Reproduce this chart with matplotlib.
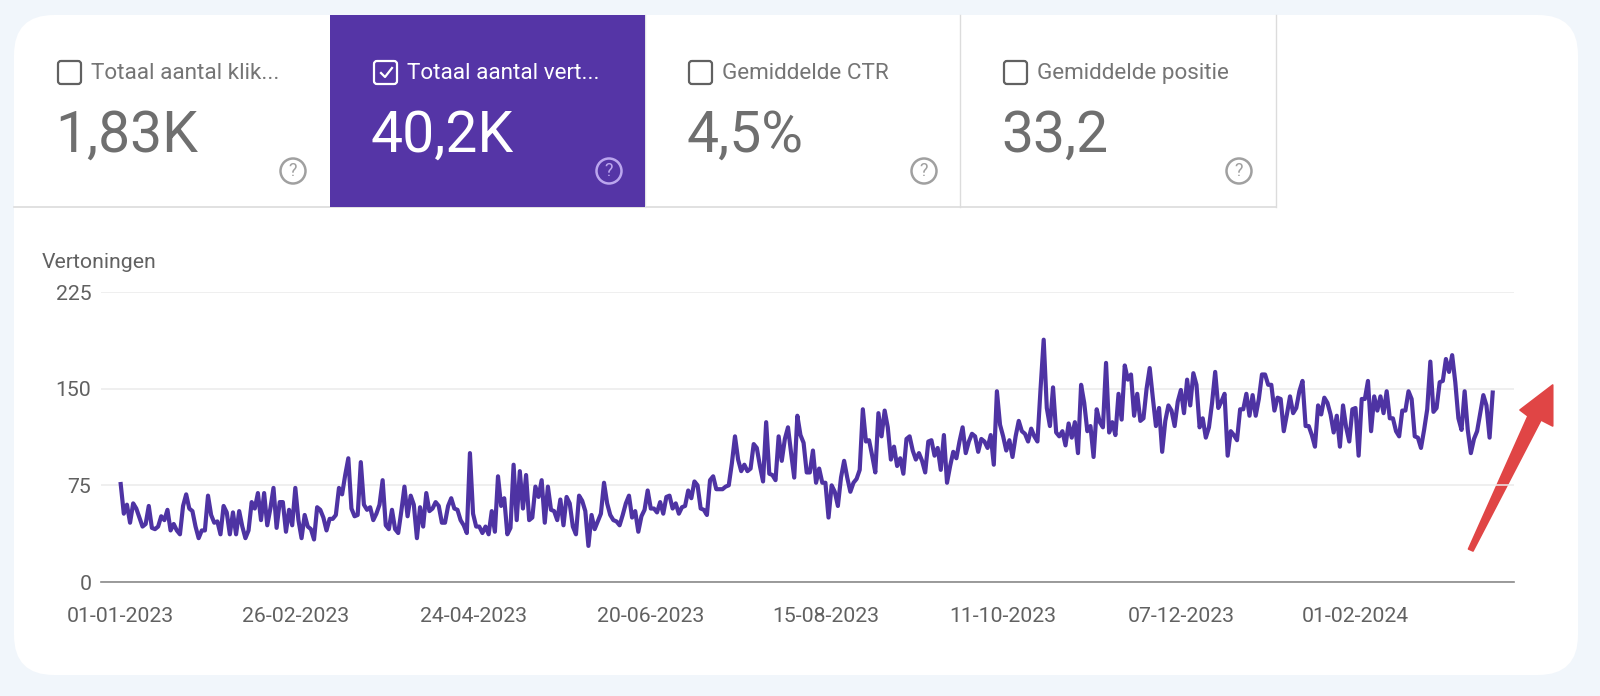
import numpy as np
import pandas as pd
import matplotlib
matplotlib.use("Agg")
from matplotlib import pyplot as plt
from matplotlib.patches import FancyBboxPatch, Rectangle, Polygon, Circle

plt.rcParams['font.family'] = ['Roboto', 'DejaVu Sans']

# daily impressions
part1 = [76, 53, 60, 46, 61, 57, 50, 43, 45, 59, 42, 41, 43, 51, 48, 56, 40, 45, 40, 37,
         59, 68, 57, 55, 43, 34, 40, 40, 67, 52, 46, 47, 37, 59, 54, 37, 54, 37, 55, 43,
         34, 40, 62, 57, 69, 48, 69, 44, 57, 73, 42, 62, 62, 39, 56, 44, 73, 48, 34, 52,
         43, 41, 33, 58, 56, 50, 40, 49, 49, 52, 73, 68, 83, 96, 57, 51, 52, 93, 60, 56,
         58, 48, 53, 60, 79, 44, 41, 56, 41, 38, 55, 74, 51, 67, 60, 34, 58, 43, 69, 55,
         57, 62, 59, 46]
part2 = [46, 59, 65, 57, 56, 48, 44, 38, 100, 53, 43, 43, 38, 43, 37, 55, 39, 82, 59, 65,
         37, 42, 91, 48, 86, 57, 83, 48, 50, 74, 66, 79, 46, 74, 56, 55, 48, 64, 44, 66,
         61, 43, 37, 67, 63, 55, 28, 52, 41, 47, 53, 77, 61, 52, 48, 47, 44, 52, 61, 67,
         50, 55, 39, 51, 56, 71, 57, 57, 54, 62, 53, 66, 67, 57, 61, 53, 58, 59, 71, 65,
         78, 75, 57, 56, 52, 79, 82, 72, 72, 72, 74, 75, 92, 113, 95, 86, 91, 86, 88, 107,
         104, 90, 78, 124, 84, 83, 79, 113, 94, 111, 120]
part3 = [100, 81, 129, 114, 108, 85, 85, 102, 77, 88, 77, 77, 50, 75, 70, 59, 81, 94, 81, 70,
         77, 80, 87, 134, 109, 110, 98, 85, 131, 113, 133, 120, 95, 105, 90, 96, 84, 111, 113, 102,
         95, 100, 94, 85, 109, 110, 98, 104, 87, 114, 77, 90, 101, 96, 109, 120, 100, 109, 115, 113,
         101, 111, 109, 104, 114, 91, 148, 122, 113, 102, 110, 97, 113, 125, 117, 115, 109, 119, 113, 109,
         150, 188, 135, 121, 151, 116, 113, 117, 106, 123, 112, 124, 100, 153, 139, 117, 121, 97, 134, 124,
         120, 170, 116, 124, 114, 146, 126, 168, 157]
part4 = [161, 129, 146, 125, 127, 150, 166, 143, 121, 135, 101, 125, 137, 133, 121, 140, 149, 131, 157, 137,
         162, 153, 120, 127, 112, 120, 139, 163, 135, 140, 146, 98, 117, 114, 110, 134, 134, 146, 129, 145,
         129, 142, 161, 161, 153, 153, 133, 143, 142, 117, 130, 144, 131, 135, 148, 156, 121, 121, 114, 105,
         137, 130, 143, 139, 130, 116, 129, 105, 137, 120, 109, 134, 135, 98, 142, 142, 156, 117, 144, 133,
         144, 131, 148, 127, 127, 117, 113, 133, 133, 148, 142, 113, 112, 104, 118, 134, 171, 132, 135, 155,
         156, 173, 163, 176, 155, 127, 118, 148, 118, 100, 111, 117, 131, 145, 137, 112, 147]
values = part1 + part2 + part3 + part4

y_ticks = [0, 75, 150, 225]
x_labels = ['01-01-2023', '26-02-2023', '24-04-2023', '20-06-2023',
            '15-08-2023', '11-10-2023', '07-12-2023', '01-02-2024']
tab_titles = ['Totaal aantal klik...', 'Totaal aantal vert...', 'Gemiddelde CTR', 'Gemiddelde positie']
tab_values = ['1,83K', '40,2K', '4,5%', '33,2']

W, H = 1600, 696
PURPLE = '#5535A6'
LINE = '#4E33A3'
GREY = '#6f6f6f'

fig = plt.figure(figsize=(W / 100, H / 100), dpi=100, facecolor='#F1F6FB')

# overlay in pixel coordinates for the card and the tiles
ui = fig.add_axes([0, 0, 1, 1], zorder=0)
ui.set_xlim(0, W)
ui.set_ylim(H, 0)
ui.axis('off')

ui.add_patch(FancyBboxPatch((14 + 40, 15 + 40), 1564 - 80, 660 - 80,
                            boxstyle='round,pad=40,rounding_size=40', fc='white', ec='none'))

edges = [14, 330, 645, 960, 1276]
ui.plot([14, 1276], [207, 207], color='#dcdcdc', lw=1.2)
ui.plot([1276, 1276], [15, 207], color='#dcdcdc', lw=1.0)
ui.plot([960, 960], [15, 207], color='#dcdcdc', lw=1.0)
ui.plot([645, 645], [15, 207], color='#e3e4e6', lw=1.0)
ui.add_patch(Rectangle((330, 15), 315, 192, fc=PURPLE, ec='none', zorder=3))

for i in range(4):
    left = edges[i]
    selected = i == 1
    col = 'white' if selected else GREY
    ui.add_patch(FancyBboxPatch((left + 46, 63), 19, 19, boxstyle='round,pad=2,rounding_size=3',
                                fc='none', ec=col if selected else '#616161', lw=1.6, zorder=4))
    if selected:
        ui.plot([left + 51, left + 55, left + 62], [73, 77, 68], color='white', lw=1.6, zorder=5)
    ui.text(left + 77, 73.5, tab_titles[i], fontsize=16.2, color='white' if selected else '#757575',
            va='center', ha='left', zorder=5)
    ui.text(left + 41, 136, tab_values[i], fontsize=41, color=col,
            va='center', ha='left', zorder=5)
    # question mark icon
    icon = '#BBA6EE' if selected else '#a0a0a0'
    ui.add_patch(Circle((left + 279, 171), 12.5, fc='none', ec=icon, lw=1.8, zorder=5))
    ui.text(left + 279, 171.5, '?', fontsize=13, color=icon, ha='center', va='center', zorder=5)

ui.text(42, 262, 'Vertoningen', fontsize=15.3, color='#616161', va='center', ha='left')

# red arrow
ui.add_patch(Polygon([(1552.7, 385), (1552.7, 426), (1541, 420), (1473, 551), (1468.5, 549),
                      (1528, 416), (1520, 410)],
                     closed=True, fc='#E04545', ec='#E04545', lw=1.2, joinstyle='round', zorder=6))

# chart
dates = pd.date_range('2023-01-01', periods=len(values))
x0, x1 = 120.7, 1492.7
px_per_day = (x1 - x0) / (len(values) - 1)
ax_left, ax_right = 101, 1514
y0_px, y225_px = 582, 292

ax = fig.add_axes([ax_left / W, 1 - y0_px / H, (ax_right - ax_left) / W, (y0_px - y225_px) / H], zorder=2)
ax.patch.set_alpha(0)
ax.plot(dates, values, color=LINE, lw=3.0, solid_joinstyle='round', clip_on=False)
ax.set_xlim(dates[0] - pd.Timedelta(days=(x0 - ax_left) / px_per_day),
            dates[0] + pd.Timedelta(days=(ax_right - x0) / px_per_day))
ax.set_ylim(0, 225)
ax.set_yticks(y_ticks)
ax.set_xticks(pd.to_datetime(x_labels, dayfirst=True))
ax.set_xticklabels(x_labels)
ax.tick_params(length=0, labelsize=15.3, labelcolor='#616161')
ax.tick_params(axis='x', pad=18)
ax.tick_params(axis='y', pad=7)
ax.grid(axis='y', color='#ebebeb', lw=1.1)
ax.set_axisbelow(True)
for s in ['top', 'right', 'left']:
    ax.spines[s].set_visible(False)
ax.spines['bottom'].set_color('#8a8a8a')
ax.spines['bottom'].set_linewidth(1.2)

fig.savefig('out.png', dpi=100, facecolor=fig.get_facecolor())
